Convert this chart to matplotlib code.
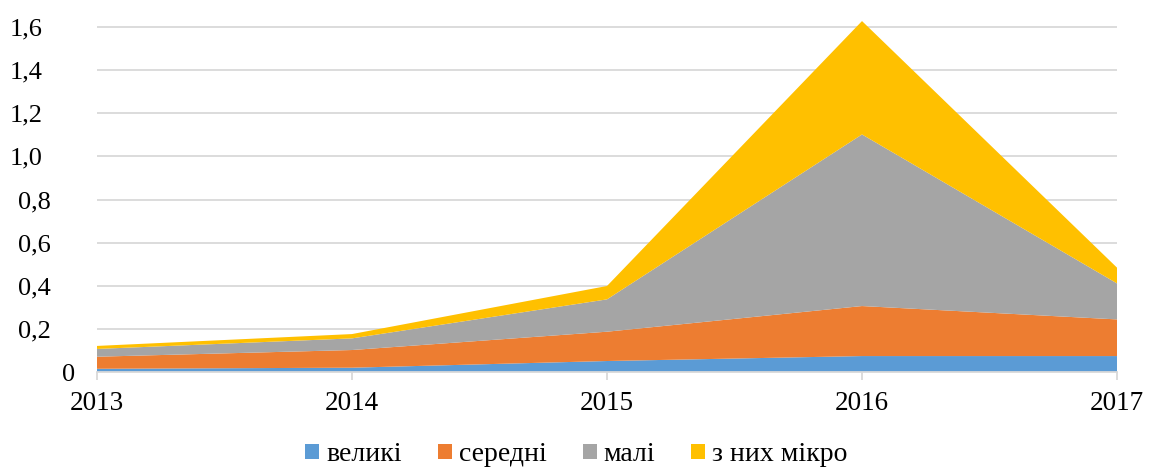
import numpy as np
import matplotlib.pyplot as plt
from matplotlib.transforms import ScaledTranslation
from matplotlib.patches import Patch

plt.rcParams['font.family'] = ['Liberation Serif', 'DejaVu Serif']

years = [2013, 2014, 2015, 2016, 2017]
velyki = [0.015, 0.020, 0.051, 0.074, 0.074]
seredni = [0.056, 0.082, 0.136, 0.232, 0.170]
mali = [0.036, 0.054, 0.150, 0.796, 0.167]
mikro = [0.014, 0.020, 0.062, 0.526, 0.073]

labels = ['великі', 'середні', 'малі', 'з них мікро']
colors = ['#5B9BD5', '#ED7D31', '#A5A5A5', '#FFC000']

fig = plt.figure(figsize=(11.53, 4.69), dpi=100)
ax = fig.add_axes([0.0841, 0.2068, 0.8847, 0.7584])

ax.stackplot(years, velyki, seredni, mali, mikro, colors=colors, labels=labels, zorder=2)

ax.set_xlim(2013, 2017)
ax.set_ylim(0, 1.65)
yt = [0, 0.2, 0.4, 0.6, 0.8, 1.0, 1.2, 1.4, 1.6]
ax.set_yticks(yt)
ax.set_yticklabels(['0'] + [f'{v:.1f}'.replace('.', ',') for v in yt[1:]])
ax.set_xticks(years)
ax.set_xticklabels([str(y) for y in years])

ax.grid(axis='y', color='#D9D9D9', linewidth=1.3, zorder=0)
ax.set_axisbelow(True)
for s in ['top', 'right', 'left']:
    ax.spines[s].set_visible(False)
ax.spines['bottom'].set_color('#D9D9D9')
ax.spines['bottom'].set_linewidth(1.3)
ax.tick_params(axis='y', length=0, pad=16, labelsize=19)
ax.tick_params(axis='x', length=6, color='#D9D9D9', width=1.3, pad=8, labelsize=19.5)

# Excel-style ragged label positions
for lab, v in zip(ax.get_yticklabels(), yt):
    if v == 0:
        dx = 0
    elif v < 1.0:
        dx = -24
    else:
        dx = -32
    lab.set_transform(lab.get_transform() + ScaledTranslation(dx / 100, 0, fig.dpi_scale_trans))

handles = [Patch(facecolor=c, label=l) for c, l in zip(colors, labels)]
fig.legend(handles=handles, loc='center', bbox_to_anchor=(0.5, 0.03), ncol=4,
           frameon=False, fontsize=20, handlelength=0.5, handleheight=0.5,
           handletextpad=0.25, columnspacing=1.3)

fig.savefig('out.png', dpi=100)
